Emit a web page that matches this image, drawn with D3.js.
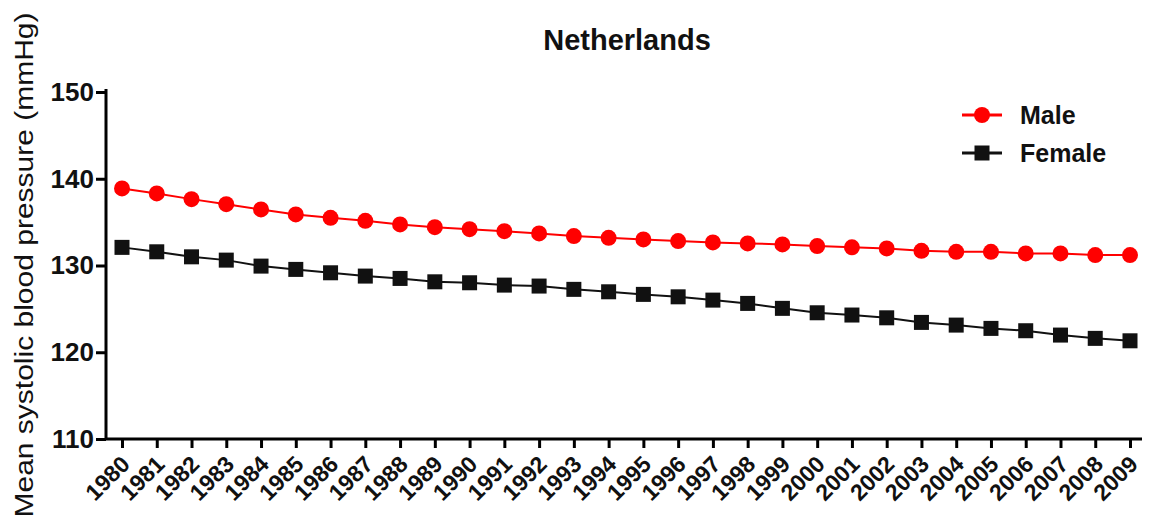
<!DOCTYPE html>
<html><head><meta charset="utf-8">
<script src="https://cdn.jsdelivr.net/npm/d3@7"></script>
<style>body{margin:0;background:#fff}svg{display:block}text{font-family:"Liberation Sans",Arial,sans-serif}</style>
</head><body><svg id="c" width="1149" height="525"></svg>
<script>
const years = d3.range(1980, 2010).map(String);
const male = [138.88,138.31,137.65,137.07,136.46,135.89,135.50,135.15,134.74,134.42,134.19,133.96,133.70,133.39,133.19,133.01,132.81,132.66,132.55,132.43,132.24,132.09,131.97,131.69,131.58,131.58,131.39,131.39,131.20,131.20];
const female = [132.09,131.58,131.00,130.62,129.93,129.55,129.16,128.78,128.51,128.12,128.01,127.74,127.63,127.25,126.97,126.67,126.39,126.01,125.63,125.06,124.55,124.29,123.97,123.44,123.13,122.75,122.48,121.98,121.60,121.32];
const yTicks = [110,120,130,140,150];
const seriesNames = ["Male","Female"];
const title = "Netherlands";
const yLabel = "Mean systolic blood pressure (mmHg)";

const svg = d3.select("#c");
const x = d3.scalePoint().domain(years).range([122,1130]);
const y = d3.scaleLinear().domain([110,150]).range([439,92]);

// axes
const yAx = svg.append("g").attr("transform","translate(106,0)")
  .call(d3.axisLeft(y).tickValues(yTicks).tickSize(10).tickPadding(2));
yAx.select(".domain").attr("d","M0,89V440").attr("stroke-width",3);
yAx.selectAll(".tick line").attr("stroke-width",3);
yAx.selectAll("text").attr("font-size",26).attr("font-weight","bold").attr("fill","#111");

const xAx = svg.append("g").attr("transform","translate(0,439)")
  .call(d3.axisBottom(x).tickSize(9).tickPadding(4));
xAx.select(".domain").attr("d","M105,0H1142").attr("stroke-width",3);
xAx.selectAll(".tick line").attr("stroke-width",3);
xAx.selectAll("text").attr("font-size",23).attr("font-weight","bold").attr("fill","#111")
  .attr("y",0).attr("text-anchor","end").attr("dy","0.35em")
  .attr("transform","translate(3,21) rotate(-45)");

// lines
const series = [
  {name:seriesNames[0], vals:male, color:"#ff0000", shape:"circle"},
  {name:seriesNames[1], vals:female, color:"#111111", shape:"square"}
];
const line = d3.line().x((d,i)=>x(years[i])).y(d=>y(d));
series.forEach(s=>{
  svg.append("path").datum(s.vals).attr("d",line).attr("fill","none")
    .attr("stroke",s.color).attr("stroke-width",2);
  const g = svg.append("g");
  if(s.shape==="circle"){
    g.selectAll("circle").data(s.vals).join("circle")
      .attr("cx",(d,i)=>x(years[i])).attr("cy",d=>y(d)).attr("r",8).attr("fill",s.color);
  } else {
    g.selectAll("rect").data(s.vals).join("rect")
      .attr("x",(d,i)=>x(years[i])-7.5).attr("y",d=>y(d)-7.5).attr("width",15).attr("height",15).attr("fill",s.color);
  }
});

// legend
series.forEach((s,i)=>{
  const ly = 115 + i*38;
  svg.append("line").attr("x1",962).attr("x2",1002).attr("y1",ly).attr("y2",ly)
    .attr("stroke",s.color).attr("stroke-width",3);
  if(s.shape==="circle") svg.append("circle").attr("cx",982).attr("cy",ly).attr("r",8).attr("fill",s.color);
  else svg.append("rect").attr("x",974.5).attr("y",ly-7.5).attr("width",15).attr("height",15).attr("fill",s.color);
  svg.append("text").attr("x",1020).attr("y",ly).attr("dy","0.35em").attr("font-size",25)
    .attr("font-weight","bold").attr("fill","#111").text(s.name);
});

// title & y label
svg.append("text").attr("x",627).attr("y",50).attr("text-anchor","middle")
  .attr("font-size",29).attr("font-weight","bold").attr("fill","#111").text(title);
svg.append("text").attr("transform","translate(33,265) rotate(-90)").attr("text-anchor","middle")
  .attr("font-size",26).attr("fill","#111")
  .attr("textLength",505).attr("lengthAdjust","spacingAndGlyphs").text(yLabel);
</script></body></html>
